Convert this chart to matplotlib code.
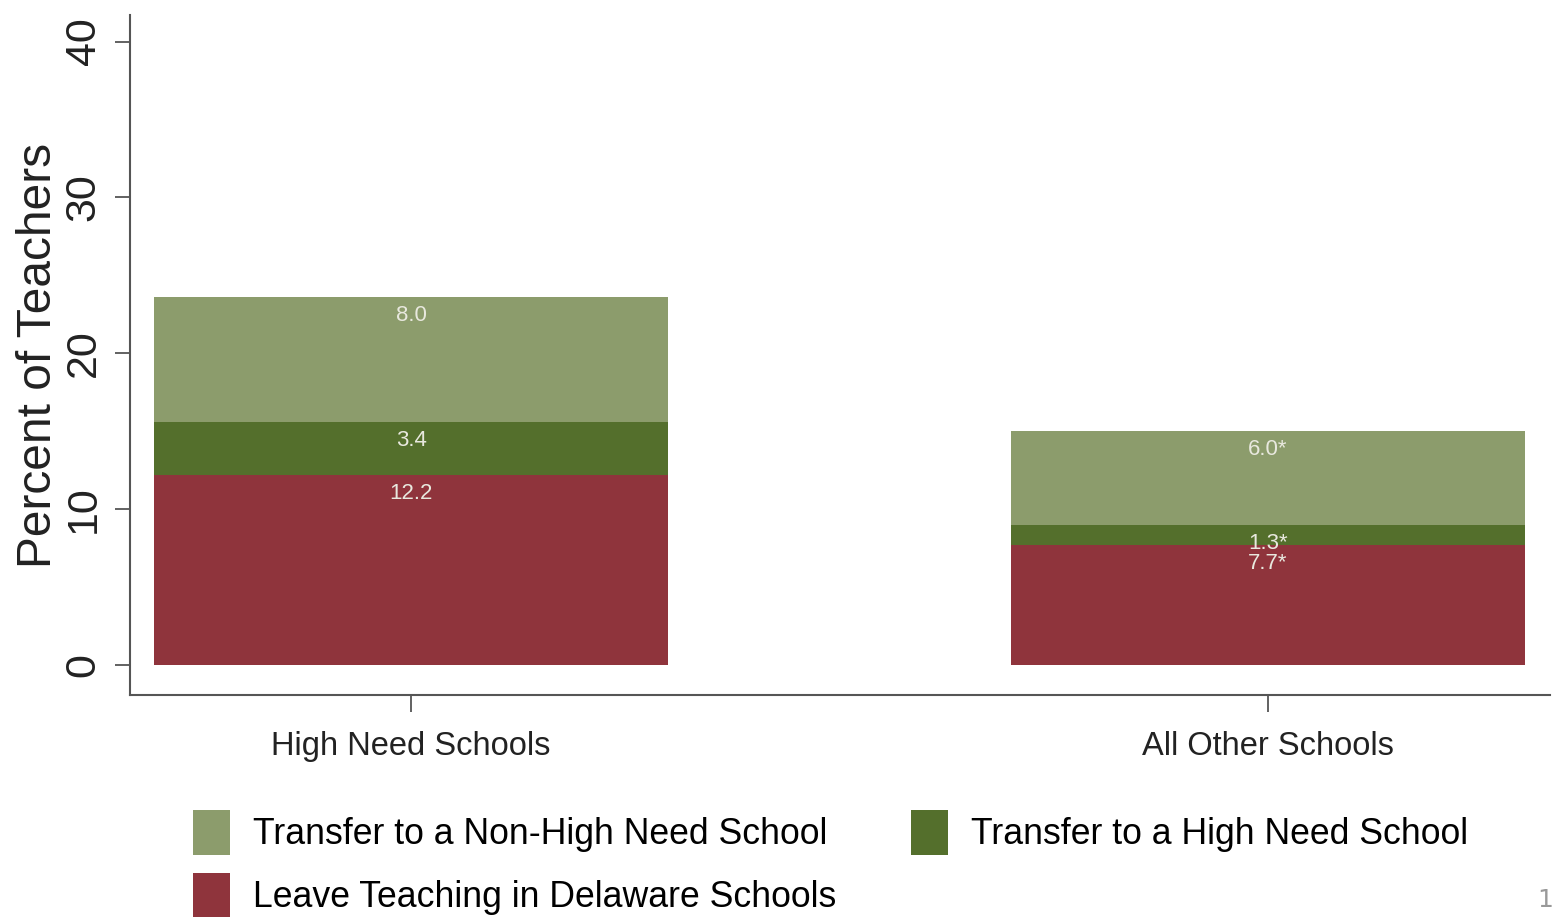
import matplotlib
matplotlib.use('Agg')
import matplotlib.pyplot as plt
import numpy as np

# data
schools = ['High Need Schools', 'All Other Schools']
leave = [12.2, 7.7]
to_high = [3.4, 1.3]
to_nonhigh = [8.0, 6.0]
leave_lbl = ['12.2', '7.7*']
to_high_lbl = ['3.4', '1.3*']
to_nonhigh_lbl = ['8.0', '6.0*']

c_light = '#8c9c6c'
c_dark = '#546f2c'
c_red = '#8f343c'

font = ['Liberation Sans', 'DejaVu Sans']

fig = plt.figure(figsize=(15.54, 9.23), dpi=100)
ax = fig.add_axes([130 / 1554, 228 / 923, 1420 / 1554, 680 / 923])

x = np.arange(len(schools))
w = 0.6
b1 = ax.bar(x, leave, w, color=c_red, label='Leave Teaching in Delaware Schools')
bottom2 = np.array(leave)
b2 = ax.bar(x, to_high, w, bottom=bottom2, color=c_dark, label='Transfer to a High Need School')
bottom3 = bottom2 + np.array(to_high)
b3 = ax.bar(x, to_nonhigh, w, bottom=bottom3, color=c_light, label='Transfer to a Non-High Need School')

# value labels just under the top of each segment
tops = [np.array(leave), bottom3, bottom3 + np.array(to_nonhigh)]
labels = [leave_lbl, to_high_lbl, to_nonhigh_lbl]
for t, lab in zip(tops, labels):
    for xi, yi, s in zip(x, t, lab):
        ax.annotate(s, (xi, yi), xytext=(0, -13), textcoords='offset points',
                    ha='center', va='center', color='#e8e8de', fontsize=16,
                    family=font)

ax.set_xlim(-0.328, 1.329)
ax.set_ylim(-1.9, 41.7)
ax.set_yticks([0, 10, 20, 30, 40])
ax.set_xticks(x)
ax.set_xticklabels(schools, family=font, fontsize=23.5, color='#222222')
for lbl in ax.get_yticklabels():
    lbl.set_rotation(90)
    lbl.set_va('center')
    lbl.set_family(font)
    lbl.set_fontsize(31)
    lbl.set_color('#222222')
ax.tick_params(axis='y', length=11, width=1.3, color='#555555', pad=8)
ax.tick_params(axis='x', length=12, width=1.3, color='#555555', pad=14)
ax.set_ylabel('Percent of Teachers', family=font, fontsize=34.5, color='#222222', labelpad=2)

for side in ['top', 'right']:
    ax.spines[side].set_visible(False)
for side in ['left', 'bottom']:
    ax.spines[side].set_color('#555555')
    ax.spines[side].set_linewidth(1.5)

fig.legend([b3, b1, b2],
           ['Transfer to a Non-High Need School', 'Leave Teaching in Delaware Schools',
            'Transfer to a High Need School'],
           ncol=2, loc='upper left', bbox_to_anchor=(193 / 1554, 1 - 810 / 923),
           frameon=False, borderpad=0, borderaxespad=0,
           handlelength=1.04, handleheight=1.55, handletextpad=0.64,
           columnspacing=2.1, labelspacing=0.5,
           prop={'family': font, 'size': 25.7})

fig.text(0.9995, 0.012, '1', color='#999999', fontsize=18, ha='right', va='bottom')

fig.savefig('out.png', dpi=100)
